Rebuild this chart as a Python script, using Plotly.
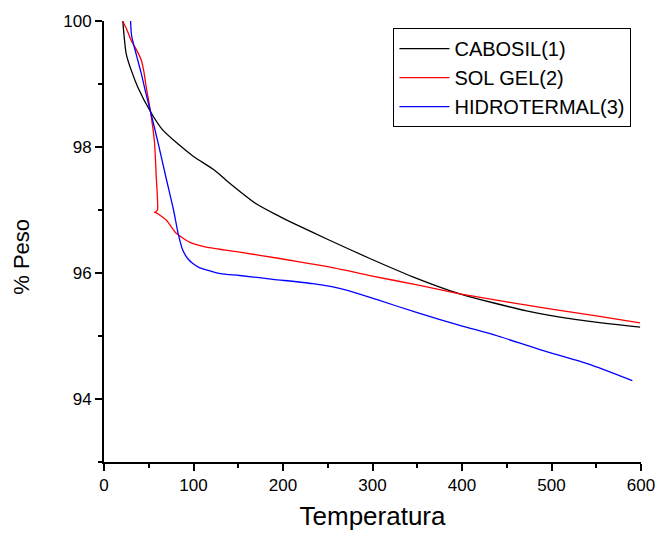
import plotly.graph_objects as go

# CABOSIL(1)
cab_T = [21, 22.2, 24.8, 30.4, 37.8, 52, 65, 82.5, 100, 123.6, 136.7, 170, 196, 210, 252, 297, 345, 397.5, 472, 528, 599]
cab_W = [100.0, 99.8, 99.48, 99.22, 98.95, 98.56, 98.28, 98.05, 97.85, 97.63, 97.47, 97.10, 96.90, 96.80, 96.52, 96.23, 95.94, 95.67, 95.40, 95.26, 95.14]

# SOL GEL(2)
sol_T = [20.7, 25, 30.4, 36, 41.6, 44.5, 47.2, 52, 56.5, 58.4, 59.8, 57.5, 56.5, 58, 60.2, 69.6, 80.7, 95.6, 114.3, 151.5, 196.3, 250, 296.9, 350, 397.5, 450, 498.2, 550, 598.9]
sol_W = [100.0, 99.88, 99.69, 99.55, 99.38, 99.2, 98.95, 98.56, 98.06, 97.52, 97.0, 96.97, 96.96, 96.96, 96.94, 96.84, 96.63, 96.49, 96.41, 96.33, 96.23, 96.10, 95.96, 95.81, 95.67, 95.54, 95.43, 95.32, 95.21]

# HIDROTERMAL(3)
hid_T = [29.4, 29.7, 30.8, 36, 41.6, 46.5, 52, 60.7, 69.2, 77.7, 82.8, 88.1, 93.5, 99.3, 106, 114.3, 130, 151.5, 188.8, 233.5, 270.9, 304.4, 350, 397.5, 440, 487.9, 540, 590.3]
hid_W = [100.3, 100.0, 99.77, 99.47, 99.17, 98.87, 98.56, 98.05, 97.52, 97.0, 96.63, 96.36, 96.23, 96.15, 96.09, 96.05, 95.99, 95.96, 95.90, 95.83, 95.73, 95.58, 95.37, 95.17, 95.0, 94.78, 94.56, 94.29]

x_ticks = [0, 100, 200, 300, 400, 500, 600]
y_ticks = [94, 96, 98, 100]

FONT = "Liberation Sans, Arial, sans-serif"

fig = go.Figure()
fig.add_trace(go.Scatter(x=cab_T, y=cab_W, mode="lines", name="CABOSIL(1)",
                         line=dict(color="#000000", width=1.3, shape="spline", smoothing=0.7)))
fig.add_trace(go.Scatter(x=sol_T, y=sol_W, mode="lines", name="SOL GEL(2)",
                         line=dict(color="#ff0000", width=1.3, shape="spline", smoothing=0.5)))
fig.add_trace(go.Scatter(x=hid_T, y=hid_W, mode="lines", name="HIDROTERMAL(3)",
                         line=dict(color="#0000ff", width=1.3, shape="spline", smoothing=0.7)))

axis_common = dict(showgrid=False, zeroline=False, showline=True, linecolor="#000000",
                   linewidth=2, ticks="outside", ticklen=7, tickwidth=1.5, tickcolor="#000000",
                   tickfont=dict(family=FONT, size=17, color="#000000"))

fig.update_xaxes(range=[0, 600], tickvals=x_ticks, ticktext=[str(v) for v in x_ticks],
                 minor=dict(ticks="outside", ticklen=4, tickwidth=1.5, tickcolor="#000000", dtick=50, tick0=0),
                 title=dict(text="Temperatura", font=dict(family=FONT, size=26, color="#000000"), standoff=12),
                 **axis_common)
fig.update_yaxes(range=[93, 100], tickvals=y_ticks, ticktext=[str(v) for v in y_ticks],
                 minor=dict(ticks="outside", ticklen=4, tickwidth=1.5, tickcolor="#000000", dtick=1, tick0=93),
                 **axis_common)

fig.add_annotation(text="% Peso", textangle=-90, xref="paper", yref="paper",
                   x=-0.153, y=0.465, xanchor="center", yanchor="middle", showarrow=False,
                   font=dict(family=FONT, size=22, color="#000000"))

fig.update_layout(
    width=656, height=533,
    margin=dict(l=104, r=15, t=21, b=71, autoexpand=False),
    paper_bgcolor="white", plot_bgcolor="white",
    showlegend=True,
    legend=dict(x=0.539, y=0.984, xanchor="left", yanchor="top",
                bordercolor="#000000", borderwidth=1, bgcolor="white",
                font=dict(family=FONT, size=20, color="#000000"),
                itemwidth=50, tracegroupgap=0),
)

fig.write_html("out.html")
